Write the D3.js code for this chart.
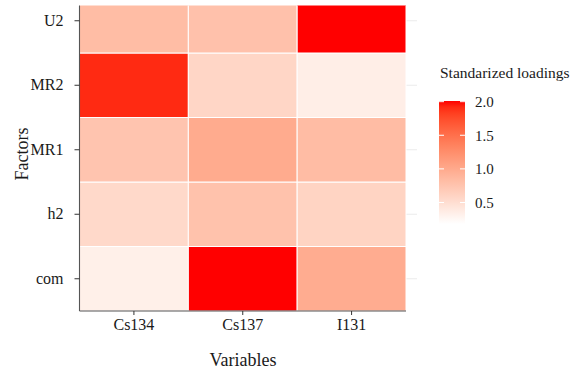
<!DOCTYPE html>
<html>
<head>
<meta charset="utf-8">
<script src="https://cdn.jsdelivr.net/npm/d3@7"></script>
<style>
  body { margin: 0; background: #fff; }
  text { font-family: "Liberation Serif", "Times New Roman", "DejaVu Serif", serif; }
</style>
</head>
<body>
<script>
'use strict';

// data
const variables = ["Cs134", "Cs137", "I131"];
const factors = ["com", "h2", "MR1", "MR2", "U2"];   // bottom to top
const loadings = {
    U2:  [0.82, 0.78, 2.01],
    MR2: [1.92, 0.58, 0.35],
    MR1: [0.75, 0.99, 0.83],
    h2:  [0.55, 0.77, 0.60],
    com: [0.33, 2.01, 0.98]
};
const legendTicks = [0.5, 1.0, 1.5, 2.0];
const fillLimits = [0.18, 2.01];

const W = 586, H = 374;
const pLeft = 79.5, pRight = 406, pBottom = 311, pTop = 5.5;
const rowStep = 64.5;
const ink = "#1a1a1a";

const svg = d3.select("body").append("svg")
    .attr("width", W)
    .attr("height", H);

const x = d3.scaleBand().domain(variables).range([pLeft, pRight]).padding(0);
const y = d3.scaleBand().domain(factors)
    .range([pBottom, pBottom - rowStep * factors.length]).padding(0);
const fill = d3.scaleLinear().domain(fillLimits).range(["white", "red"])
    .interpolate(d3.interpolateLab).clamp(true);

const cells = [];
factors.forEach(f => variables.forEach((v, i) => cells.push({f, v, value: loadings[f][i]})));

svg.append("clipPath").attr("id", "panel")
    .append("rect").attr("x", pLeft).attr("y", pTop)
    .attr("width", 420 - pLeft).attr("height", pBottom - pTop);

const panel = svg.append("g").attr("clip-path", "url(#panel)");

// grid lines peeking out to the right of the tiles
panel.selectAll("line.grid")
    .data(factors)
    .join("line")
    .attr("class", "grid")
    .attr("x1", pLeft).attr("x2", 417)
    .attr("y1", d => y(d) + y.bandwidth() / 2)
    .attr("y2", d => y(d) + y.bandwidth() / 2)
    .attr("stroke", "#ebebeb")
    .attr("stroke-width", 1);

panel.selectAll("rect.tile")
    .data(cells)
    .join("rect")
    .attr("class", "tile")
    .attr("x", d => x(d.v))
    .attr("y", d => y(d.f))
    .attr("width", x.bandwidth())
    .attr("height", y.bandwidth())
    .attr("fill", d => fill(d.value))
    .attr("stroke", "white")
    .attr("stroke-width", 1);

// axes
const xAxis = svg.append("g")
    .attr("transform", `translate(0,${pBottom})`)
    .call(d3.axisBottom(x).tickSize(4).tickPadding(4));
const yAxis = svg.append("g")
    .attr("transform", `translate(${pLeft},0)`)
    .call(d3.axisLeft(y).tickSize(5).tickPadding(11));

[xAxis, yAxis].forEach(a => {
    a.attr("font-family", null).attr("font-size", null);
    a.select(".domain").attr("stroke", "#555").attr("stroke-width", 1.1);
    a.selectAll(".tick line").attr("stroke", "#333");
    a.selectAll(".tick text")
        .attr("fill", ink)
        .style("font-size", "16px");
});
xAxis.select(".domain").attr("d", `M${pLeft},0H${pRight}`);
yAxis.select(".domain").attr("d", `M0,${pBottom}V${pTop}`);

svg.append("text")
    .attr("x", 243).attr("y", 366)
    .attr("text-anchor", "middle")
    .style("font-size", "18px")
    .attr("fill", ink)
    .text("Variables");

svg.append("text")
    .attr("transform", "translate(28,154) rotate(-90)")
    .attr("text-anchor", "middle")
    .style("font-size", "18px")
    .attr("fill", ink)
    .text("Factors");

// legend
const legX = 439, legW = 26, legTop = 101, legBottom = 224;
const ly = d3.scaleLinear().domain(fillLimits).range([legBottom, legTop]);

svg.append("text")
    .attr("x", 440).attr("y", 78)
    .style("font-size", "15.5px")
    .attr("fill", ink)
    .text("Standarized loadings");

const defs = svg.append("defs");
const grad = defs.append("linearGradient").attr("id", "legendGrad")
    .attr("x1", 0).attr("y1", 1).attr("x2", 0).attr("y2", 0);
d3.range(0, 1.0001, 0.05).forEach(t => {
    grad.append("stop")
        .attr("offset", t)
        .attr("stop-color", fill(fillLimits[0] + t * (fillLimits[1] - fillLimits[0])));
});

svg.append("rect")
    .attr("x", legX).attr("y", legTop)
    .attr("width", legW).attr("height", legBottom - legTop)
    .attr("fill", "url(#legendGrad)");

const lt = svg.append("g");
lt.selectAll("line.l")
    .data(legendTicks)
    .join("line")
    .attr("class", "l")
    .attr("x1", legX).attr("x2", legX + 5)
    .attr("y1", d => ly(d)).attr("y2", d => ly(d))
    .attr("stroke", "white");
lt.selectAll("line.r")
    .data(legendTicks)
    .join("line")
    .attr("class", "r")
    .attr("x1", legX + legW - 5).attr("x2", legX + legW)
    .attr("y1", d => ly(d)).attr("y2", d => ly(d))
    .attr("stroke", "white");
lt.selectAll("text")
    .data(legendTicks)
    .join("text")
    .attr("x", 475)
    .attr("y", d => ly(d))
    .attr("dy", "0.35em")
    .style("font-size", "15px")
    .attr("fill", ink)
    .text(d => d.toFixed(1));
</script>
</body>
</html>
